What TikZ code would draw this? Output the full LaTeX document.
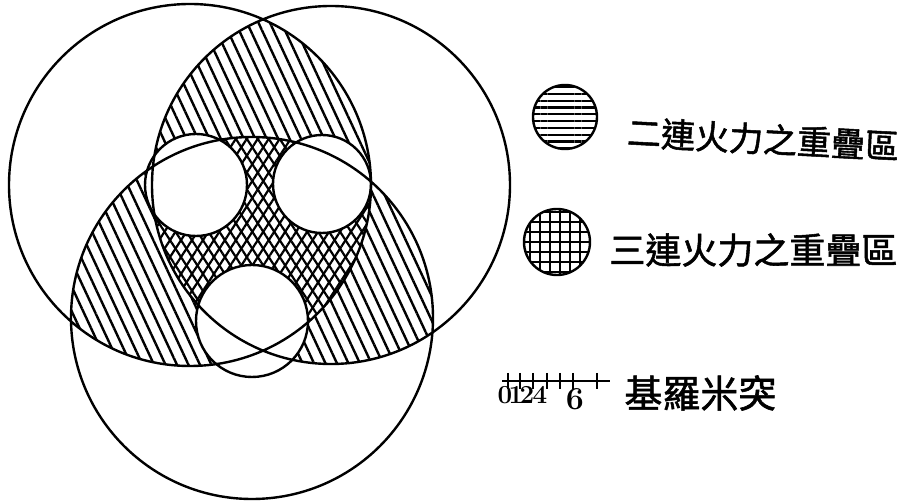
\documentclass[tikz,border=0pt]{standalone}
\usepackage{fontspec}
\newfontfamily\cjk[FakeBold=1.5]{Noto Sans CJK TC}
\usetikzlibrary{patterns.meta}

\begin{document}
\begin{tikzpicture}[x=0.5pt,y=-0.5pt,
  rim/.style={line width=1.2pt},
  twofold/.style={pattern={Lines[angle=-65,distance=5.2pt,line width=1.2pt]}},
  crossa/.style={pattern={Lines[angle=57,distance=4.6pt,line width=1.1pt]}},
  crossb/.style={pattern={Lines[angle=-57,distance=4.6pt,line width=1.1pt]}},
  legtext/.style={font=\cjk\fontsize{17}{20}\selectfont,anchor=west,inner sep=0pt}]
\useasboundingbox (0,0) rectangle (907,502);
\coordinate (A) at (190,185);
\coordinate (B) at (331,185);
\coordinate (C) at (252,318);
\coordinate (a) at (196,185);
\coordinate (b) at (322,184);
\coordinate (c) at (252,321);
% overlap of two batteries
\begin{scope}
  \clip (A) circle (181);
  \fill[twofold] (B) circle (179);
  \fill[twofold] (C) circle (181);
\end{scope}
\begin{scope}
  \clip (B) circle (179);
  \fill[twofold] (C) circle (181);
\end{scope}
% overlap of three batteries
\begin{scope}
  \clip (A) circle (181);
  \clip (B) circle (179);
  \fill[white] (C) circle (181);
  \fill[crossa] (C) circle (181);
  \fill[crossb] (C) circle (181);
\end{scope}
\fill[white] (a) circle (51) (b) circle (49) (c) circle (56);
\draw[rim] (A) circle (181) (B) circle (179) (C) circle (181);
\draw[rim] (a) circle (51) (b) circle (49) (c) circle (56);

% legend
\node[circle,draw,rim,minimum size=32pt,inner sep=0pt,
  pattern={Lines[angle=0,distance=3.4pt,line width=1.1pt]}] (key2) at (565,117) {};
\node[circle,draw,rim,minimum size=33pt,inner sep=0pt,
  pattern={Hatch[angle=0,distance=5pt,line width=1.2pt]}] (key3) at (557,242) {};
\node[legtext,rotate=-3] (lbl2) at (627,132) {二連火力之重疊區};
\node[legtext,font=\cjk\fontsize{18}{20}\selectfont] (lbl3) at (609,250) {三連火力之重疊區};

% scale
\draw[rim] (502,381) -- (610,381);
\foreach \x in {508,520,533,547,560,573,597}
  \draw[line width=1pt] (\x,373) -- (\x,389);
\foreach \x/\t in {505/0,516/1,527/2,540/4}
  \node[font=\bfseries\fontsize{13}{14}\selectfont,inner sep=0pt] (n\t) at (\x,395) {\t};
\node[font=\bfseries\fontsize{16}{17}\selectfont,inner sep=0pt] (n6) at (575,399) {6};
\node[legtext,font=\cjk\fontsize{19}{22}\selectfont] (unit) at (624,393) {基羅米突};
\end{tikzpicture}
\end{document}
